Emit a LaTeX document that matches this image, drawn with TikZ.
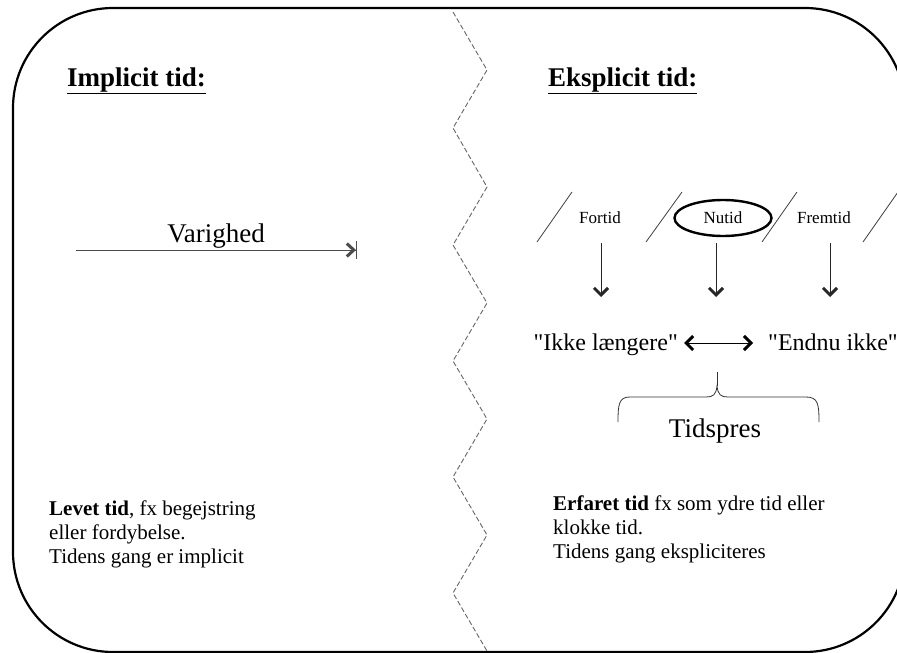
\documentclass[tikz,border=0pt]{standalone}
\usepackage{fontspec}
\setmainfont{Liberation Serif}
\newfontfamily\plainserif{Liberation Serif}
\usetikzlibrary{arrows.meta,shapes.geometric}
\tikzset{
  head/.style={font=\bfseries\fontsize{27}{32}\selectfont, anchor=base west, inner sep=0pt},
  big/.style={font=\fontsize{27}{32}\selectfont, inner sep=0pt},
  mid/.style={font=\plainserif\fontsize{24}{28}\selectfont, inner sep=0pt},
  small/.style={font=\fontsize{17}{20}\selectfont, inner sep=0pt},
  body/.style={font=\fontsize{21}{24}\selectfont, align=left, anchor=north west, inner sep=0pt},
  zig/.style={dashed, dash pattern=on 5pt off 2.5pt, draw=black!60, line width=0.9pt},
  slash/.style={draw=black!75, line width=0.8pt},
  tip/.tip={Straight Barb[length=7pt,width=14pt,line width=3pt 0 1]},
  barb/.style={-tip, line width=0.9pt, draw=black!85},
}
\begin{document}
\begin{tikzpicture}[x=1pt,y=-1pt]
\useasboundingbox (0,0) rectangle (897,653);
\fill[white] (0,0) rectangle (897,653);
% outer frame
\draw[line width=2.2pt, rounded corners=100pt] (13,8) rectangle (905,652);
% zigzag divider
\draw[zig] (453,12) -- (487,70) -- (453,128) -- (487,187) -- (453,245) -- (487,303)
  -- (453,361) -- (487,419) -- (453,477) -- (487,535) -- (453,593) -- (487,651);
% headers
\node[head] (impl) at (67,86) {\underline{Implicit tid:}};
\node[head] (ekspl) at (548,86) {\underline{Eksplicit tid:}};
% Varighed
\node[big, anchor=base] (var) at (216,242) {Varighed};
\coordinate (vs) at (76,250);
\coordinate (ve) at (357,250);
\draw[-{Straight Barb[length=7pt,width=13pt,line width=3pt 0 1]Bar[width=18pt,line width=1pt 0 1]}, line width=0.9pt, draw=black!70] (vs) -- (ve);
% time row
\draw[slash] (537,242) -- (572,192);
\draw[slash] (646,242) -- (682,192);
\draw[slash] (762,242) -- (797,192);
\draw[slash] (863,242) -- (898,192);
\node[small, anchor=base] (fortid) at (600,223) {Fortid};
\node[small, draw, ellipse, line width=2.4pt, minimum width=97pt, minimum height=36pt] (nutid) at (723,218) {\raisebox{-2pt}{Nutid}};
\node[small, anchor=base] (fremtid) at (824,223) {Fremtid};
\coordinate (a1) at (601,297);
\coordinate (a2) at (716,297);
\coordinate (a3) at (830,297);
\draw[barb] (601,243) -- (a1);
\draw[barb] (716,243) -- (a2);
\draw[barb] (830,243) -- (a3);
% Ikke laengere / Endnu ikke
\node[mid, anchor=base east] (ikke) at (678,350) {"Ikke længere"};
\node[mid, anchor=base west] (endnu) at (768,350) {"Endnu ikke"};
\draw[tip-tip, line width=0.9pt]
  ([shift={(6,-7)}]ikke.base east) -- ([shift={(-15,-7)}]endnu.base west);
% brace and Tidspres
\draw[line width=0.8pt, draw=black!80] (618,422) .. controls (618,404) and (619,397) .. (630,397) -- (706,397)
  .. controls (713,397) and (716,395) .. (717,386) .. controls (718,395) and (721,397) .. (728,397) -- (806,397)
  .. controls (818,397) and (819,404) .. (819,422);
\draw[line width=0.8pt, draw=black!80] (717,386) -- (717,372);
\node[big, anchor=base] (tidspres) at (715,437) {Tidspres};
% bottom texts
\node[body] (levet) at (49,501) {\textbf{Levet tid}, fx begejstring\\eller fordybelse.\\Tidens gang er implicit};
\node[body] (erfaret) at (553,496) {\textbf{Erfaret tid} fx som ydre tid eller\\klokke tid.\\Tidens gang ekspliciteres};
\end{tikzpicture}
\end{document}
